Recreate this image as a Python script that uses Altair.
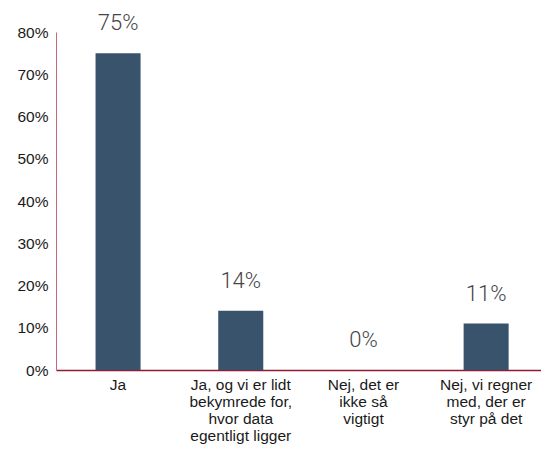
import altair as alt
import pandas as pd

categories = [
    "Ja",
    "Ja, og vi er lidt\nbekymrede for,\nhvor data\negentligt ligger",
    "Nej, det er\nikke så\nvigtigt",
    "Nej, vi regner\nmed, der er\nstyr på det",
]
values = [0.75, 0.14, 0.0, 0.11]
y_ticks = [0, 0.1, 0.2, 0.3, 0.4, 0.5, 0.6, 0.7, 0.8]

df = pd.DataFrame({"cat": categories, "value": values})

x_enc = alt.X(
    "cat:N",
    sort=categories,
    title=None,
    scale=alt.Scale(paddingInner=0.633, paddingOuter=0.293, align=0.55),
    axis=alt.Axis(
        labelAngle=0,
        ticks=False,
        labelPadding=7,
        labelFont="Liberation Sans",
        labelFontSize=15.5,
        labelColor="#1a1a1a",
        labelLimit=300,
        labelBaseline="top",
        labelExpr="split(datum.label, '\\n')",
        domainColor="#8e1b33",
        domainWidth=1.5,
        grid=False,
    ),
)

y_enc = alt.Y(
    "value:Q",
    title=None,
    scale=alt.Scale(domain=[0, 0.8], nice=False),
    axis=alt.Axis(
        values=y_ticks,
        format=".0%",
        ticks=False,
        labelPadding=8,
        labelFont="Liberation Sans",
        labelFontSize=15.5,
        labelColor="#1a1a1a",
        domainColor="#c4687c",
        domainWidth=1,
        grid=False,
    ),
)

bars = alt.Chart(df).mark_bar(color="#38536b").encode(x=x_enc, y=y_enc)

labels = alt.Chart(df).mark_text(
    font="Roboto",
    fontSize=22,
    fontWeight=300,
    color="#444444",
    baseline="middle",
    dy=-30,
).encode(
    x=alt.X("cat:N", sort=categories),
    y=alt.Y("value:Q"),
    text=alt.Text("value:Q", format=".0%"),
)

chart = (
    alt.layer(bars, labels)
    .properties(
        width=485,
        height=338,
        autosize=alt.AutoSizeParams(type="none"),
        padding={"left": 48, "top": 24, "right": 0, "bottom": 74},
    )
    .configure(style={"guide-label": {"lineHeight": 17}})
    .configure_view(stroke=None)
)

chart.save("out.html", embed_options={"renderer": "svg", "actions": False})
